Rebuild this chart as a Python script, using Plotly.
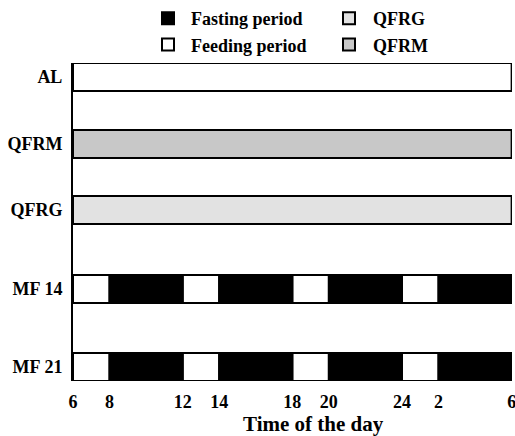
import plotly.graph_objects as go

# ---- data ----
rows = ["MF 21", "MF 14", "QFRG", "QFRM", "AL"]
# feeding segments (start hour, duration hours); hours past 24 continue next day
feed_rows = ["AL", "MF 14", "MF 14", "MF 14", "MF 14", "MF 21", "MF 21", "MF 21", "MF 21"]
feed_start = [6, 6, 12, 18, 24, 6, 12, 18, 24]
feed_dur = [24, 2, 2, 2, 2, 2, 2, 2, 2]
fast_rows = ["MF 14", "MF 14", "MF 14", "MF 14", "MF 21", "MF 21", "MF 21", "MF 21"]
fast_start = [8, 14, 20, 26, 8, 14, 20, 26]
fast_dur = [4, 4, 4, 4, 4, 4, 4, 4]
qfrg_start, qfrg_dur = [6], [24]
qfrm_start, qfrm_dur = [6], [24]
tick_hours = [6, 8, 12, 14, 18, 20, 24, 26, 30]
tick_labels = ["6", "8", "12", "14", "18", "20", "24", "2", "6"]

# ---- layout positions of rows (vertical placement) ----
ROW_Y = {"MF 21": 14, "MF 14": 92, "QFRG": 171, "QFRM": 237, "AL": 304}
BAR_W = 28

FONT = "Liberation Serif"
bold = dict(family=FONT, size=18, color="black", weight="bold")

fig = go.Figure()

def add(name, rws, start, dur, fill, legend):
    fig.add_trace(go.Bar(
        name=name, orientation="h",
        y=[ROW_Y[r] for r in rws], x=dur, base=start,
        width=BAR_W, marker=dict(color=fill, line=dict(color="black", width=2)),
        cliponaxis=False, legend=legend, hoverinfo="skip",
    ))

add("Feeding period", feed_rows, feed_start, feed_dur, "white", "legend")
add("Fasting period", fast_rows, fast_start, fast_dur, "black", "legend")
add("QFRG", ["QFRG"], qfrg_start, qfrg_dur, "#e2e2e2", "legend2")
add("QFRM", ["QFRM"], qfrm_start, qfrm_dur, "#c8c8c8", "legend2")

fig.update_layout(
    width=515, height=436,
    margin=dict(l=73, r=3, t=63, b=55, autoexpand=False),
    paper_bgcolor="white", plot_bgcolor="white",
    barmode="overlay",
    font=bold,
    legend=dict(x=145/515, y=1.0, xref="container", yref="container",
                xanchor="left", yanchor="top", traceorder="reversed",
                font=bold, bgcolor="rgba(0,0,0,0)", itemwidth=36),
    legend2=dict(x=325/515, y=1.0, xref="container", yref="container",
                 xanchor="left", yanchor="top", traceorder="normal",
                 font=bold, bgcolor="rgba(0,0,0,0)", itemwidth=38),
    xaxis=dict(range=[6, 30.02], tickvals=tick_hours, ticktext=tick_labels,
               showgrid=False, zeroline=False, showline=False, ticks="",
               tickfont=bold, ticklabelstandoff=8, automargin=False,
               ticklabeloverflow="allow"),
    yaxis=dict(range=[0, 318], tickvals=[ROW_Y[r] for r in rows], ticktext=rows,
               showgrid=False, zeroline=False, showline=True, linecolor="black",
               linewidth=2, ticks="", tickfont=bold, ticklabelstandoff=5, automargin=False),
    annotations=[dict(text="Time of the day", xref="paper", yref="paper",
                      x=(313-73)/439, y=0, yshift=-43, xanchor="center", yanchor="middle",
                      showarrow=False, font=dict(family=FONT, size=21, color="black"))],
)

fig.write_html("out.html", post_script="document.body.style.margin='0';",
               config={"displayModeBar": False})
